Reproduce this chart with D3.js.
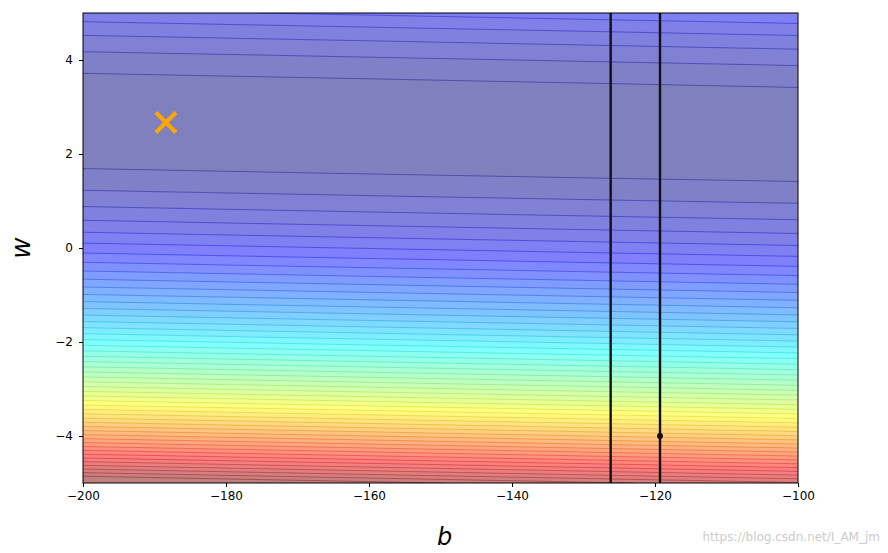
<!DOCTYPE html>
<html lang="en">
  <head>
    <meta charset="utf-8" />
    <script src="https://cdn.jsdelivr.net/npm/d3@7/dist/d3.min.js"></script>
    <style>
      body { margin: 0; background: #fff; }
      .tick text { font-family: "DejaVu Sans", sans-serif; font-size: 12px; fill: #000; }
    </style>
  </head>
  <body>
    <div id="container"></div>
    <script>
      // training data (pokemon cp example)
      const xData = [338, 333, 328, 207, 226, 25, 179, 60, 208, 606];
      const yData = [640, 633, 619, 393, 428, 27, 193, 66, 226, 1591];
      // grid of b and w
      const bValues = d3.range(-200, -99, 1);
      const wValues = d3.range(0, 101).map((i) => -5 + i * 0.1);
      // gradient descent history (b, w), jumps far off the plot
      const pathB = [-119.3, -119.3, -119.3, -126.2, -126.2];
      const pathW = [-4, -160, 180, 180, -160];
      const optimum = [-188.4, 2.67];
      const xTicks = [-200, -180, -160, -140, -120, -100];
      const yTicks = [-4, -2, 0, 2, 4];

      const width = 888, height = 553;
      const mLeft = 83, mRight = 798, mTop = 13, mBottom = 483;
      const svg = d3.select("#container").append("svg").attr("width", width).attr("height", height);
      const xs = d3.scaleLinear().domain([-200, -100]).range([mLeft, mRight]);
      const ys = d3.scaleLinear().domain([-5, 5]).range([mBottom, mTop]);

      const nx = bValues.length, ny = wValues.length;
      const z = new Array(nx * ny);
      for (let j = 0; j < ny; j++)
        for (let i = 0; i < nx; i++) {
          let s = 0;
          for (let k = 0; k < xData.length; k++) {
            const e = yData[k] - bValues[i] - wValues[j] * xData[k];
            s += e * e;
          }
          z[j * nx + i] = s;
        }
      const [zmin, zmax] = d3.extent(z);
      let levels = d3.ticks(zmin, zmax, 50);
      const step = levels[1] - levels[0];
      if (levels[0] > zmin) levels.unshift(levels[0] - step);

      const jet = (t) => {
        const c = (v) => Math.max(0, Math.min(1, v));
        return [c(1.5 - Math.abs(4 * t - 3)), c(1.5 - Math.abs(4 * t - 2)), c(1.5 - Math.abs(4 * t - 1))];
      };
      const lo = levels[0] + step / 2, hi = levels[levels.length - 1] - step / 2;
      const bandColor = (v, dark) => {
        const [r, g, b] = jet(Math.max(0, Math.min(1, (v - lo) / (hi - lo))));
        const m = dark
          ? (c) => Math.round((0.75 * c + 0.1) * 255)
          : (c) => Math.round((0.5 * c + 0.5) * 255);
        return `rgb(${m(r)},${m(g)},${m(b)})`;
      };

      const contours = d3.contours().size([nx, ny]).thresholds(levels.slice(0, -1))(z);
      const proj = d3.geoTransform({
        point(x, y) {
          this.stream.point(xs(-200 + (x - 0.5)), ys(-5 + (y - 0.5) * 0.1));
        },
      });
      const path = d3.geoPath(proj);
      svg.append("clipPath").attr("id", "clip").append("rect")
        .attr("x", mLeft).attr("y", mTop).attr("width", mRight - mLeft).attr("height", mBottom - mTop);
      const g = svg.append("g").attr("clip-path", "url(#clip)");
      g.selectAll("path.band").data(contours).join("path")
        .attr("d", path)
        .attr("fill", (d) => bandColor(d.value + step / 2, false))
        .attr("stroke", (d) => bandColor(d.value, true))
        .attr("stroke-width", 0.7)
        .attr("stroke-opacity", 0.7);

      // gradient descent path
      const line = d3.line().x((d) => xs(d[0])).y((d) => ys(d[1]));
      g.append("path").datum(pathB.map((b, i) => [b, pathW[i]]))
        .attr("d", line).attr("fill", "none").attr("stroke", "#111").attr("stroke-width", 2.4);
      g.append("circle").attr("cx", xs(pathB[0])).attr("cy", ys(pathW[0])).attr("r", 3).attr("fill", "#111");

      // optimum marker
      const ox = xs(optimum[0]), oy = ys(optimum[1]), s = 10;
      svg.append("path").attr("d", `M${ox - s},${oy - s}L${ox + s},${oy + s}M${ox - s},${oy + s}L${ox + s},${oy - s}`)
        .attr("stroke", "orange").attr("stroke-width", 4);

      svg.append("rect").attr("x", mLeft).attr("y", mTop).attr("width", mRight - mLeft).attr("height", mBottom - mTop)
        .attr("fill", "none").attr("stroke", "#000").attr("stroke-width", 1);

      svg.append("g").attr("transform", `translate(0,${mBottom})`)
        .call(d3.axisBottom(xs).tickValues(xTicks).tickSize(4).tickPadding(4).tickFormat((d) => String(d).replace("-", "\u2212")))
        .call((a) => a.select(".domain").remove());
      svg.append("g").attr("transform", `translate(${mLeft},0)`)
        .call(d3.axisLeft(ys).tickValues(yTicks).tickSize(4).tickPadding(6).tickFormat((d) => String(d).replace("-", "\u2212")))
        .call((a) => a.select(".domain").remove());

      svg.append("text").attr("x", (mLeft + mRight) / 2 + 4).attr("y", 545).attr("text-anchor", "middle")
        .attr("font-family", "DejaVu Sans").attr("font-style", "italic").attr("font-size", 24).text("b");
      svg.append("text").attr("transform", `translate(30,${(mTop + mBottom) / 2}) rotate(-90)`).attr("text-anchor", "middle")
        .attr("font-family", "DejaVu Sans").attr("font-style", "italic").attr("font-size", 26).text("w");
      svg.append("text").attr("x", 880).attr("y", 541).attr("text-anchor", "end")
        .attr("font-family", "DejaVu Sans").attr("font-size", 12).attr("fill", "#ccc").text("https://blog.csdn.net/I_AM_jm");
    </script>
  </body>
</html>
